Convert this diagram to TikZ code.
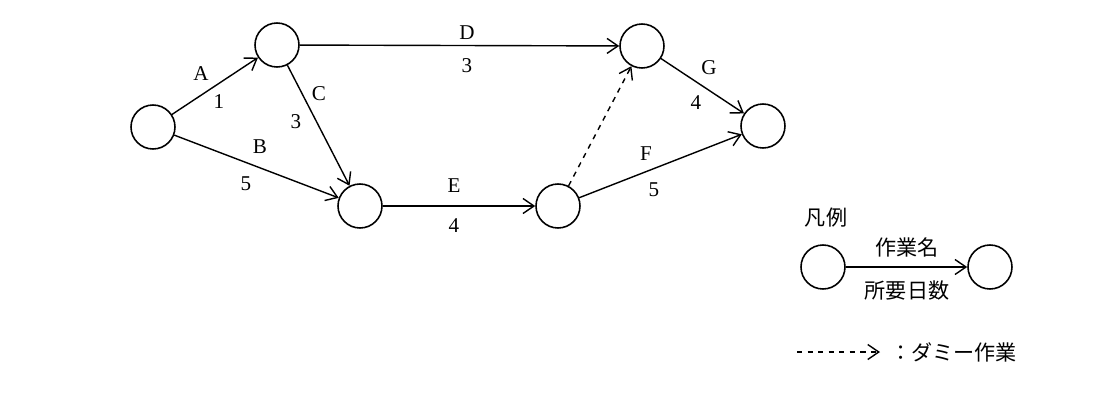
\documentclass[tikz,border=0pt]{standalone}
\usepackage{fontspec}
\setmainfont{Liberation Serif}
\newfontfamily\cjk{Noto Sans CJK JP}
\usetikzlibrary{arrows.meta}
\begin{document}
\begin{tikzpicture}[x=0.02cm,y=-0.02cm,
  ev/.style={circle,draw,line width=0.9pt,minimum size=0.88cm,inner sep=0},
  act/.style={draw,line width=0.8pt,-{Straight Barb[length=2.2mm,width=3mm]}},
  lab/.style={font=\large}]
\useasboundingbox (0,0) rectangle (1100,400);
\node[ev] (n1) at (153,127) {};
\node[ev] (n2) at (277,45) {};
\node[ev] (n3) at (360,206) {};
\node[ev] (n4) at (642,46) {};
\node[ev] (n5) at (558,206) {};
\node[ev] (n6) at (763,126) {};
\draw[act] (n1) -- (n2);
\draw[act] (n1) -- (n3);
\draw[act] (n2) -- (n3);
\draw[act] (n2) -- (n4);
\draw[act] (n3) -- (n5);
\draw[act,dashed] (n5) -- (n4);
\draw[act] (n5) -- (n6);
\draw[act] (n4) -- (n6);
\node[lab] (la) at (201,74) {A};
\node[lab] (l1) at (219,102) {1};
\node[lab] (lb) at (260,147) {B};
\node[lab] (l5) at (246,184) {5};
\node[lab] (lc) at (319,94) {C};
\node[lab] (l3) at (296,122) {3};
\node[lab] (ld) at (467,33) {D};
\node[lab] (l3b) at (467,66) {3};
\node[lab] (le) at (454,186) {E};
\node[lab] (l4) at (454,226) {4};
\node[lab] (lf) at (646,154) {F};
\node[lab] (l5b) at (654,190) {5};
\node[lab] (lg) at (709,68) {G};
\node[lab] (l4b) at (696,103) {4};
% legend
\node[font=\cjk\large] (hanrei) at (826,218) {凡例};
\node[ev] (m1) at (823,267) {};
\node[ev] (m2) at (990,267) {};
\draw[act] (m1) -- (m2);
\node[font=\cjk\large] (sag) at (907,247) {作業名};
\node[font=\cjk\large] (nis) at (907,291) {所要日数};
\coordinate (d1) at (797,352);
\coordinate (d2) at (880,352);
\draw[act,dashed] (d1) -- (d2);
\node[font=\cjk\large,anchor=west] (dm) at (884,352) {：ダミー作業};
\end{tikzpicture}
\end{document}
